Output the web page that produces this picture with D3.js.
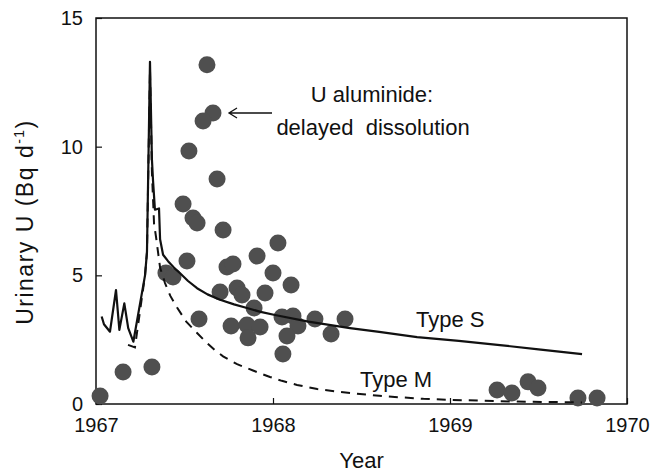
<!DOCTYPE html>
<html lang="en">
<head>
  <meta charset="utf-8">
  <title>Urinary U</title>
  <script src="https://cdn.jsdelivr.net/npm/d3@7"></script>
  <style>
    body { margin: 0; background: #fff; }
    text { font-family: "Liberation Sans", Arial, sans-serif; fill: #111; }
  </style>
</head>
<body>
  <script>
    // ticks
    const yearTicks = [1967, 1968, 1969, 1970];
    const valueTicks = [0, 5, 10, 15];

    // measured urine samples
    const pointYears = [1967.023, 1967.153, 1967.316, 1967.627, 1967.661, 1967.605, 1967.525, 1967.684,
      1967.492, 1967.548, 1967.571, 1967.718, 1967.514, 1967.395, 1967.435, 1967.740, 1967.774, 1967.910,
      1968.028, 1968.000, 1968.102, 1967.701, 1967.797, 1967.825, 1967.955, 1967.893, 1967.582, 1967.763,
      1967.853, 1967.927, 1967.859, 1968.051, 1968.113, 1968.141, 1968.237, 1968.407, 1968.328, 1968.079,
      1968.056, 1969.266, 1969.350, 1969.441, 1969.497, 1969.723, 1969.831];
    const pointValues = [0.31, 1.24, 1.44, 13.18, 11.31, 11.00, 9.83, 8.74,
      7.77, 7.23, 7.03, 6.76, 5.56, 5.09, 4.94, 5.32, 5.44, 5.75,
      6.26, 5.09, 4.62, 4.35, 4.51, 4.24, 4.31, 3.73, 3.30, 3.03,
      3.07, 2.99, 2.57, 3.38, 3.42, 3.03, 3.30, 3.30, 2.72, 2.64,
      1.94, 0.54, 0.43, 0.86, 0.62, 0.23, 0.23];

    // model curve, Type S (solid)
    const typeSYears = [1967.032, 1967.045, 1967.079, 1967.113, 1967.132, 1967.160, 1967.182, 1967.211,
      1967.277, 1967.288, 1967.305, 1967.316, 1967.322, 1967.333, 1967.356, 1967.362, 1967.379, 1967.407,
      1967.44, 1967.475, 1967.52, 1967.571, 1967.63, 1967.701, 1967.78, 1967.853, 1967.93, 1968.011,
      1968.2, 1968.435, 1968.6, 1968.814, 1969.05, 1969.282, 1969.5, 1969.746];
    const typeSValues = [3.4, 3.1, 2.81, 4.43, 2.88, 3.91, 2.95, 2.42,
      5.0, 5.9, 13.3, 9.5, 8.7, 7.55, 7.6, 6.4, 5.8, 5.55,
      5.3, 5.08, 4.78, 4.5, 4.26, 4.05, 3.87, 3.73, 3.58, 3.46,
      3.2, 2.95, 2.8, 2.6, 2.45, 2.29, 2.12, 1.94];

    // model curve, Type M (dashed)
    const typeMYears = [1967.181, 1967.220, 1967.277, 1967.288, 1967.305, 1967.316, 1967.328, 1967.339,
      1967.362, 1967.390, 1967.42, 1967.458, 1967.51, 1967.571, 1967.627, 1967.67, 1967.718, 1967.797,
      1967.887, 1967.983, 1968.05, 1968.136, 1968.25, 1968.362, 1968.475, 1968.6, 1968.718, 1968.85,
      1969.0, 1969.339, 1969.746];
    const typeMValues = [2.3, 2.2, 5.0, 5.9, 13.0, 9.0, 7.0, 6.5,
      5.3, 4.7, 4.2, 3.75, 3.2, 2.76, 2.37, 2.1, 1.85, 1.55,
      1.3, 1.05, 0.9, 0.74, 0.58, 0.48, 0.4, 0.32, 0.26, 0.2,
      0.16, 0.1, 0.06];

    const w = 653;
    const h = 474;
    const plotLeft = 96, plotRight = 627, plotTop = 18, plotBottom = 404;

    const x = d3.scaleLinear().domain([1967, 1970]).range([plotLeft, plotRight]);
    const y = d3.scaleLinear().domain([0, 15]).range([plotBottom, plotTop]);

    const svg = d3.select("body")
      .append("svg")
      .attr("width", w)
      .attr("height", h);

    // frame
    svg.append("rect")
      .attr("x", plotLeft)
      .attr("y", plotTop)
      .attr("width", plotRight - plotLeft)
      .attr("height", plotBottom - plotTop)
      .attr("fill", "none")
      .attr("stroke", "#111")
      .attr("stroke-width", 1.5);

    // axes with inward ticks
    const xAxis = svg.append("g")
      .attr("transform", "translate(0," + plotBottom + ")")
      .call(d3.axisBottom(x).tickValues(yearTicks).tickFormat(d3.format("d")).tickSize(-6).tickPadding(14));
    const yAxis = svg.append("g")
      .attr("transform", "translate(" + plotLeft + ",0)")
      .call(d3.axisLeft(y).tickValues(valueTicks).tickSize(-6).tickPadding(13));

    [xAxis, yAxis].forEach(function (g) {
      g.select(".domain").remove();
      g.selectAll("line").attr("stroke", "#111").attr("stroke-width", 1.2);
      g.selectAll("text")
        .style("font-family", '"Liberation Sans", Arial, sans-serif')
        .style("font-size", "20px")
        .attr("fill", "#111");
    });

    // axis titles
    svg.append("text")
      .attr("x", (plotLeft + plotRight) / 2)
      .attr("y", 468)
      .attr("text-anchor", "middle")
      .style("font-size", "22px")
      .text("Year");

    const ylab = svg.append("text")
      .attr("transform", "translate(33,222) rotate(-90)")
      .attr("text-anchor", "middle")
      .style("font-size", "23px")
      .style("letter-spacing", "1.5px");
    ylab.append("tspan").text("Urinary U (Bq d");
    ylab.append("tspan").attr("dy", -9).style("font-size", "14px").text("-1");
    ylab.append("tspan").attr("dy", 9).text(")");

    // points
    const points = pointYears.map(function (t, i) {
      return { t: t, v: pointValues[i] };
    });
    svg.selectAll("circle")
      .data(points)
      .enter()
      .append("circle")
      .attr("cx", function (d) { return x(d.t); })
      .attr("cy", function (d) { return y(d.v); })
      .attr("r", 8.5)
      .attr("fill", "#4f4f4f");

    // curves
    const line = d3.line()
      .x(function (d) { return x(d[0]); })
      .y(function (d) { return y(d[1]); });

    svg.append("path")
      .datum(typeMYears.map(function (t, i) { return [t, typeMValues[i]]; }))
      .attr("d", line)
      .attr("fill", "none")
      .attr("stroke", "#111")
      .attr("stroke-width", 2)
      .attr("stroke-dasharray", "9,7");

    svg.append("path")
      .datum(typeSYears.map(function (t, i) { return [t, typeSValues[i]]; }))
      .attr("d", line)
      .attr("fill", "none")
      .attr("stroke", "#111")
      .attr("stroke-width", 2.2)
      .attr("stroke-linejoin", "round");

    // labels
    svg.append("text")
      .attr("x", 416)
      .attr("y", 327)
      .style("font-size", "22px")
      .text("Type S");

    svg.append("text")
      .attr("x", 360)
      .attr("y", 387)
      .style("font-size", "22px")
      .text("Type M");

    svg.append("text")
      .attr("x", 372)
      .attr("y", 102)
      .attr("text-anchor", "middle")
      .style("font-size", "22px")
      .text("U aluminide:");

    svg.append("text")
      .attr("x", 373)
      .attr("y", 135)
      .attr("text-anchor", "middle")
      .style("font-size", "22px")
      .style("white-space", "pre")
      .text("delayed  dissolution");

    // arrow pointing at the delayed points
    svg.append("path")
      .attr("d", "M272,113 L229,113 M237,108 L229,113 L237,118")
      .attr("fill", "none")
      .attr("stroke", "#111")
      .attr("stroke-width", 1.3);
  </script>
</body>
</html>
